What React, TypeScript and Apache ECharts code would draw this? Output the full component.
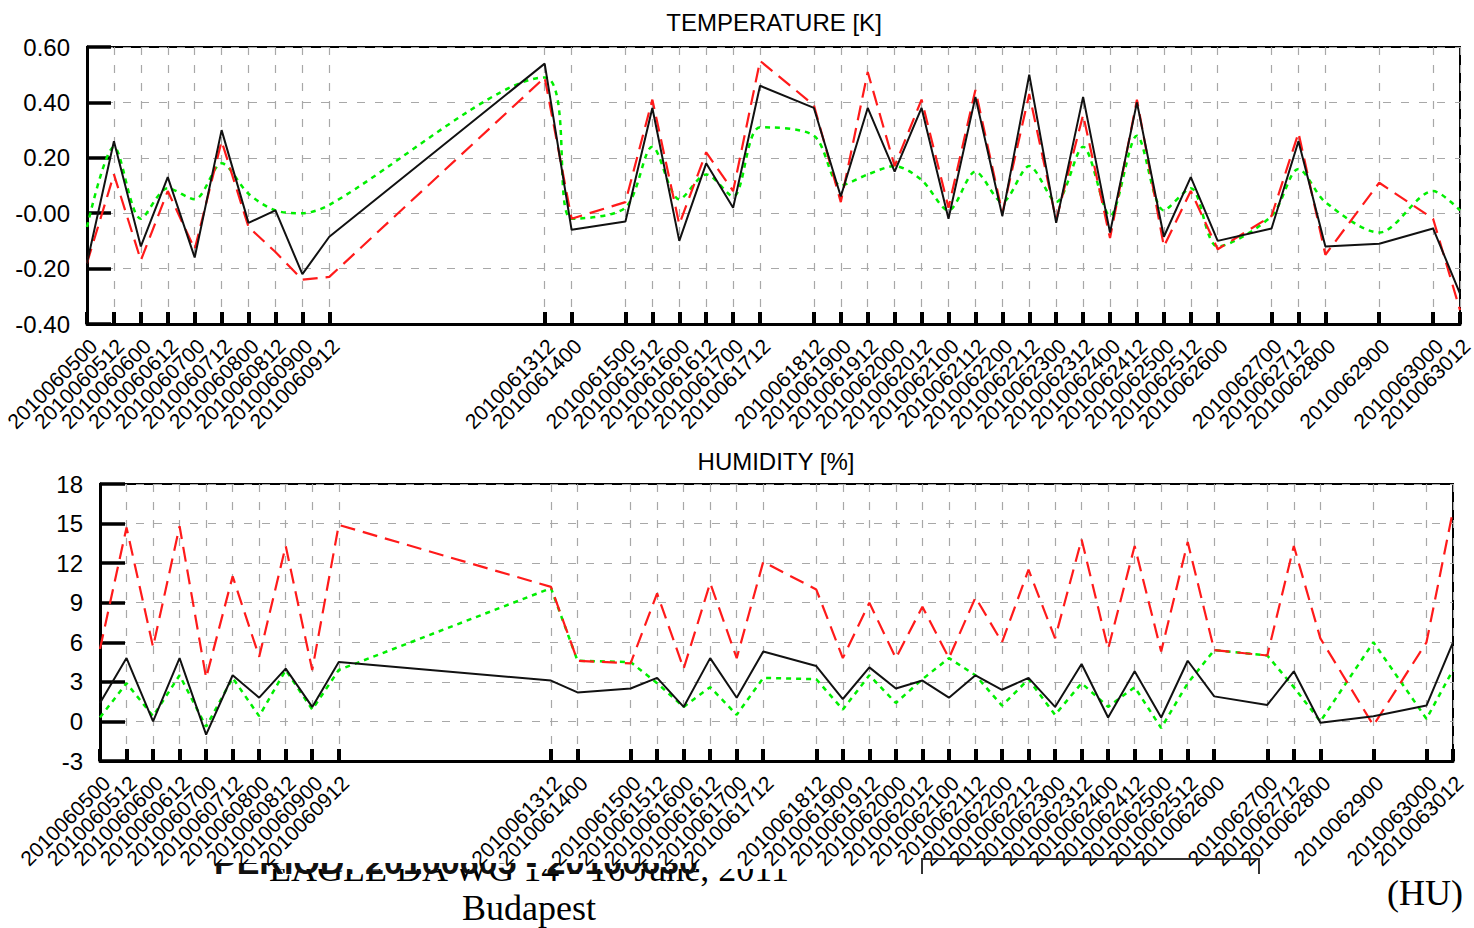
import React, { useEffect, useRef } from 'react';
import * as echarts from 'echarts';

// ---- Data ----
const times: string[] = [
  '2010060500', '2010060512', '2010060600', '2010060612', '2010060700', '2010060712',
  '2010060800', '2010060812', '2010060900', '2010060912',
  '2010061312', '2010061400',
  '2010061500', '2010061512', '2010061600', '2010061612', '2010061700', '2010061712',
  '2010061812', '2010061900', '2010061912', '2010062000', '2010062012', '2010062100',
  '2010062112', '2010062200', '2010062212', '2010062300', '2010062312', '2010062400',
  '2010062412', '2010062500', '2010062512', '2010062600',
  '2010062700', '2010062712', '2010062800',
  '2010062900',
  '2010063000', '2010063012',
];

const tempBlack: number[] = [
  -0.18, 0.26, -0.12, 0.13, -0.16, 0.30, -0.035, 0.01, -0.22, -0.085,
  0.54, -0.06,
  -0.03, 0.38, -0.10, 0.18, 0.02, 0.46,
  0.38, 0.06, 0.38, 0.15, 0.38, -0.02, 0.42, -0.01, 0.50, -0.035, 0.42, -0.07, 0.40, -0.085, 0.13, -0.10,
  -0.055, 0.26, -0.12,
  -0.11,
  -0.055, -0.29,
];
const tempRed: number[] = [
  -0.18, 0.14, -0.17, 0.08, -0.13, 0.26, -0.05, -0.14, -0.24, -0.23,
  0.49, -0.02,
  0.04, 0.41, -0.04, 0.22, 0.08, 0.55,
  0.39, 0.04, 0.51, 0.17, 0.41, 0.02, 0.445, 0.0, 0.43, -0.025, 0.355, -0.09, 0.41, -0.12, 0.08, -0.13,
  -0.01, 0.29, -0.15,
  0.11,
  -0.02, -0.35,
];
const tempGreen: number[] = [
  -0.05, 0.24, -0.02, 0.09, 0.05, 0.18, 0.07, 0.01, 0.0, 0.03,
  0.49, -0.02,
  0.02, 0.24, 0.05, 0.14, 0.06, 0.31,
  0.28, 0.10, 0.14, 0.17, 0.12, 0.01, 0.15, 0.04, 0.17, 0.04, 0.24, -0.01, 0.28, 0.01, 0.09, -0.12,
  -0.01, 0.16, 0.04,
  -0.07,
  0.08, 0.01,
];

const humBlack: number[] = [
  1.4, 4.8, 0.0, 4.8, -1.0, 3.5, 1.8, 4.0, 1.1, 4.5,
  3.1, 2.2,
  2.5, 3.3, 1.1, 4.8, 1.8, 5.3,
  4.2, 1.7, 4.1, 2.5, 3.1, 1.8, 3.5, 2.4, 3.3, 1.1, 4.35, 0.3, 3.8, 0.3, 4.6, 1.9,
  1.25, 3.8, -0.1,
  0.4,
  1.2, 6.0,
];
const humRed: number[] = [
  5.5, 14.7, 5.65, 14.8, 3.3, 11.0, 4.9, 13.3, 3.9, 14.9,
  10.2, 4.6,
  4.4, 9.7, 4.0, 10.5, 4.8, 12.1,
  10.0, 4.8, 9.0, 4.8, 8.7, 4.8, 9.4, 6.0, 11.5, 6.3, 13.8, 5.5, 13.3, 5.3, 13.6, 5.4,
  5.0, 13.3, 6.3,
  -0.3,
  6.0, 16.0,
];
const humGreen: number[] = [
  0.3, 2.9, 0.4, 3.5, -0.4, 3.3, 0.4, 3.9, 0.9, 3.9,
  10.1, 4.6,
  4.5, 2.9, 1.1, 2.6, 0.5, 3.3,
  3.2, 0.9, 3.5, 1.4, 3.2, 4.8, 3.5, 1.2, 3.2, 0.5, 2.9, 1.1, 2.6, -0.5, 2.9, 5.4,
  5.0, 2.6, 0.0,
  6.0,
  0.2, 3.9,
];

const tempTicks = [-0.4, -0.2, 0.0, 0.2, 0.4, 0.6];
const humTicks = [-3, 0, 3, 6, 9, 12, 15, 18];

const titleTemp = 'TEMPERATURE [K]';
const titleHum = 'HUMIDITY [%]';
const periodText = 'PERIOD: 20100605 - 20100630';
const eventText = 'EAGLE DA WG 14 - 16 June, 2011';
const cityText = 'Budapest';
const countryText = '(HU)';

// ---- helpers ----
const hoursFromStart = (s: string) =>
  (parseInt(s.slice(6, 8), 10) - 5) * 24 + parseInt(s.slice(8, 10), 10);
const xs = times.map(hoursFromStart);
const xMax = hoursFromStart('2010063012');
const labelFor: Record<number, string> = {};
xs.forEach((x, i) => (labelFor[x] = times[i]));
const pair = (vals: number[]) => vals.map((v, i) => [xs[i], v]);
// labels split over two stacked axes so that neighbouring labels never get auto-hidden
const xsEven = xs.filter((_, i) => i % 2 === 0);
const xsOdd = xs.filter((_, i) => i % 2 === 1);

const SANS = '"Liberation Sans", Arial, Helvetica, sans-serif';
const SERIF = '"Liberation Serif", "Times New Roman", serif';
const gridLine = { color: '#a8a8a8', width: 1.2, type: [8, 10] as number[] };

function labelOpts(values: number[]) {
  return {
    show: true,
    customValues: values,
    showMinLabel: true,
    showMaxLabel: true,
    hideOverlap: false,
    rotate: 45,
    margin: 12,
    fontSize: 21,
    lineHeight: 18,
    verticalAlign: 'top',
    color: '#000',
    fontFamily: SANS,
    formatter: (v: number) => labelFor[v] ?? '',
  };
}

function xAxisMain(gridIndex: number) {
  return {
    type: 'value',
    gridIndex,
    position: 'bottom',
    min: 0,
    max: xMax,
    axisLine: { show: true, onZero: false, lineStyle: { color: '#000', width: 3 } },
    axisTick: {
      show: true,
      inside: true,
      length: 12,
      customValues: xs,
      lineStyle: { color: '#000', width: 4 },
    },
    axisLabel: labelOpts(xsEven),
    splitLine: { show: true, lineStyle: gridLine },
  };
}

function xAxisOdd(gridIndex: number) {
  return {
    type: 'value',
    gridIndex,
    position: 'bottom',
    offset: 0,
    min: 0,
    max: xMax,
    axisLine: { show: false, onZero: false },
    axisTick: { show: false },
    axisLabel: labelOpts(xsOdd),
    splitLine: { show: false },
  };
}

function yAxisFor(gridIndex: number, ticks: number[], fmt: (v: number) => string, tickLen: number) {
  const interval = ticks[1] - ticks[0];
  return {
    type: 'value',
    gridIndex,
    min: ticks[0],
    max: ticks[ticks.length - 1],
    interval,
    axisLine: { show: true, onZero: false, lineStyle: { color: '#000', width: 3 } },
    axisTick: { show: true, inside: true, length: tickLen, lineStyle: { color: '#000', width: 3.5 } },
    axisLabel: { fontSize: 24, color: '#000', margin: 17, fontFamily: SANS, formatter: fmt, showMinLabel: true, showMaxLabel: true },
    splitLine: { show: true, lineStyle: gridLine },
  };
}

function line(data: number[], xIdx: number, yIdx: number, color: string, type: any, width: number, smooth: number | boolean) {
  return {
    type: 'line',
    xAxisIndex: xIdx,
    yAxisIndex: yIdx,
    data: pair(data),
    symbol: 'none',
    showSymbol: false,
    smooth,
    lineStyle: { color, width, type },
  };
}

const tempFmt = (v: number) => (Math.abs(v) < 1e-9 ? '-0.00' : v.toFixed(2));
const humFmt = (v: number) => String(Math.round(v));

export default function App() {
  const ref = useRef<HTMLDivElement>(null);
  useEffect(() => {
    if (!ref.current) return;
    const chart = echarts.init(ref.current, undefined, { renderer: 'svg' });
    const option: any = {
      animation: false,
      backgroundColor: '#fff',
      grid: [
        { left: 87, top: 47, width: 1373, height: 277, containLabel: false, outerBoundsMode: 'none', show: true, borderColor: '#000', borderWidth: 2, backgroundColor: 'transparent' },
        { left: 100, top: 484, width: 1353, height: 277, containLabel: false, outerBoundsMode: 'none', show: true, borderColor: '#000', borderWidth: 2, backgroundColor: 'transparent' },
      ],
      xAxis: [xAxisMain(0), xAxisOdd(0), xAxisMain(1), xAxisOdd(1)],
      yAxis: [yAxisFor(0, tempTicks, tempFmt, 24), yAxisFor(1, humTicks, humFmt, 25)],
      series: [
        line(tempGreen, 0, 0, '#00ee00', [5, 5], 2.5, 0.3),
        line(tempRed, 0, 0, '#ff1a1a', [15, 8], 2.2, false),
        line(tempBlack, 0, 0, '#111', 'solid', 2, false),
        line(humGreen, 2, 1, '#00ee00', [5, 5], 2.5, false),
        line(humRed, 2, 1, '#ff1a1a', [15, 8], 2.2, false),
        line(humBlack, 2, 1, '#111', 'solid', 2, false),
      ],
      graphic: [
        { type: 'text', z: 5, x: 774, y: 22, style: { text: titleTemp, fontSize: 24, fontFamily: SANS, fill: '#000', align: 'center', verticalAlign: 'middle' } },
        { type: 'text', z: 5, x: 776, y: 461, style: { text: titleHum, fontSize: 24, fontFamily: SANS, fill: '#000', align: 'center', verticalAlign: 'middle' } },
        { type: 'text', z: -5, x: 529, y: 869, style: { text: eventText, fontSize: 36, fontFamily: SERIF, fill: '#000', align: 'center', verticalAlign: 'middle' } },
        { type: 'rect', z: -4, shape: { x: 150, y: 800, width: 700, height: 69 }, style: { fill: '#fff' } },
        { type: 'text', z: -3, x: 214, y: 862, style: { text: periodText, fontSize: 34, fontWeight: 'bold', fontFamily: SANS, fill: '#111', align: 'left', verticalAlign: 'middle' } },
        { type: 'rect', z: -2, shape: { x: 150, y: 800, width: 700, height: 63 }, style: { fill: '#fff' } },
        { type: 'text', z: 5, x: 529, y: 908, style: { text: cityText, fontSize: 36, fontFamily: SERIF, fill: '#000', align: 'center', verticalAlign: 'middle' } },
        { type: 'text', z: 5, x: 1463, y: 893, style: { text: countryText, fontSize: 36, fontFamily: SERIF, fill: '#000', align: 'right', verticalAlign: 'middle' } },
        { type: 'polyline', z: 5, shape: { points: [[922, 874], [922, 859], [1259, 859], [1259, 874]] }, style: { stroke: '#333', lineWidth: 2, fill: 'none' } },
      ],
    };
    chart.setOption(option);
    return () => chart.dispose();
  }, []);
  return <div ref={ref} style={{ position: 'absolute', left: 0, top: 0, width: 1474, height: 928 }} />;
}
